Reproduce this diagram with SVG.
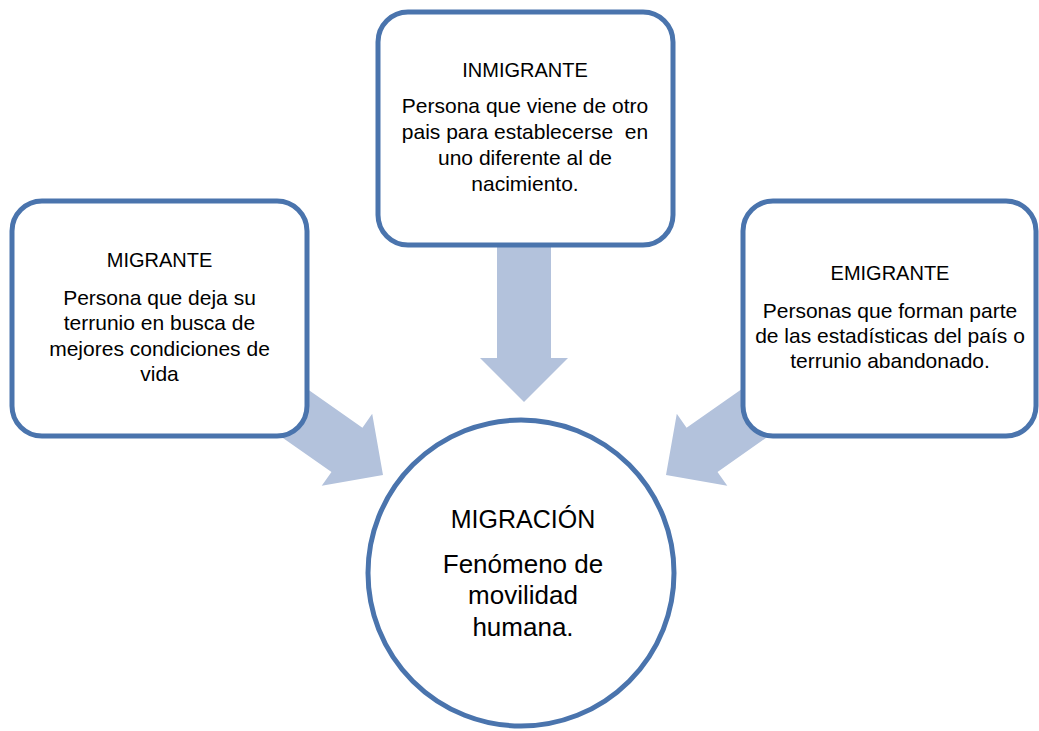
<svg xmlns="http://www.w3.org/2000/svg" width="1039" height="731" viewBox="0 0 1039 731">
<style>
.box{fill:#ffffff;stroke:#4a74ad;stroke-width:5}
.arrow{fill:#b3c2dc}
.t{font-family:"Liberation Sans",Arial,sans-serif;fill:#000;text-anchor:middle}
.h{font-size:20px}
.b{font-size:21px}
.ch{font-size:25px}
.cb{font-size:26px}
</style>
<defs>
<path id="arr" d="M0,0 L-44,-44 L-44,-27 L-170,-27 L-170,27 L-44,27 L-44,44 Z"/>
</defs>
<rect width="1039" height="731" fill="#ffffff"/>
<g id="connectors">
<use href="#arr" class="arrow" transform="translate(383,475) rotate(35)"/>
<use href="#arr" class="arrow" transform="translate(666,475) rotate(145)"/>
<use href="#arr" class="arrow" transform="translate(524,402) rotate(90)"/>
</g>
<g id="migrante">
<rect class="box" x="12" y="201" width="295" height="235" rx="30"/>
<text class="t h" x="159.5" y="267">MIGRANTE</text>
<text class="t b" x="159.5" y="305">Persona que deja su</text>
<text class="t b" x="159.5" y="330">terrunio en busca de</text>
<text class="t b" x="159.5" y="356">mejores condiciones de</text>
<text class="t b" x="159.5" y="381">vida</text>
</g>
<g id="inmigrante">
<rect class="box" x="378" y="12" width="295" height="233" rx="30"/>
<text class="t h" x="525" y="77">INMIGRANTE</text>
<text class="t b" x="525" y="113">Persona que viene de otro</text>
<text class="t b" x="525" y="139" xml:space="preserve">pais para establecerse  en</text>
<text class="t b" x="525" y="165">uno diferente al de</text>
<text class="t b" x="525" y="191">nacimiento.</text>
</g>
<g id="emigrante">
<rect class="box" x="743" y="201" width="293" height="235" rx="30"/>
<text class="t h" x="890" y="280">EMIGRANTE</text>
<text class="t b" x="890" y="318">Personas que forman parte</text>
<text class="t b" x="890" y="343">de las estadísticas del país o</text>
<text class="t b" x="890" y="368">terrunio abandonado.</text>
</g>
<g id="migracion">
<circle class="box" cx="521" cy="573" r="153"/>
<text class="t ch" x="523" y="528">MIGRACIÓN</text>
<text class="t cb" x="523" y="573">Fenómeno de</text>
<text class="t cb" x="523" y="604">movilidad</text>
<text class="t cb" x="523" y="636">humana.</text>
</g>
</svg>
